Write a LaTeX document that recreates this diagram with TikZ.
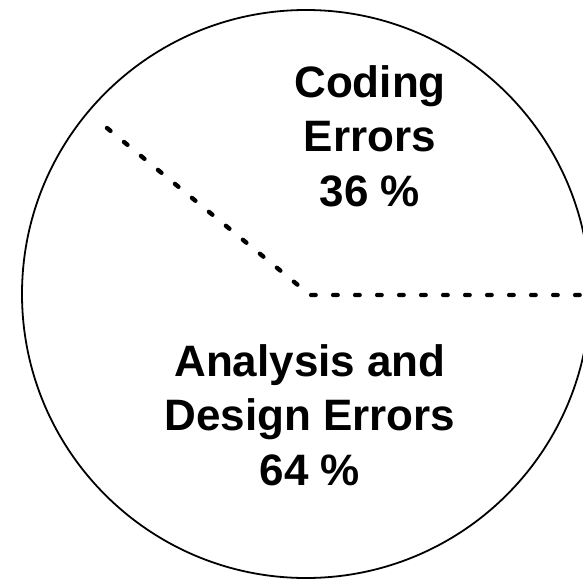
\documentclass[tikz,border=0pt]{standalone}
\usepackage{fontspec}
\setmainfont{Liberation Sans}
\begin{document}
\begin{tikzpicture}[x=1pt,y=-1pt,
  pieoutline/.style={circle,draw=black,line width=1.8pt,minimum size=568pt,inner sep=0pt},
  divider/.style={line width=4.4pt,line cap=round,dash pattern=on 4.5pt off 17.5pt},
  lbl/.style={font=\fontsize{44}{54.5}\selectfont\bfseries,align=center,inner sep=0pt,anchor=base}]
\useasboundingbox (0,0) rectangle (583,578);
\clip (0,0) rectangle (583,578);
\fill[white] (0,0) rectangle (583,578);
\node[pieoutline] (pie) at (306,294) {};
\coordinate (start) at (107,128);
\coordinate (corner) at (310,295);
\coordinate (edge) at (600,295);
\draw[divider] (start) -- (corner) -- (edge);
\node[lbl] (coding) at (370,206) {Coding\\Errors\\36 \%};
\node[lbl] (analysis) at (310,485) {Analysis and\\Design Errors\\64 \%};
\end{tikzpicture}
\end{document}
